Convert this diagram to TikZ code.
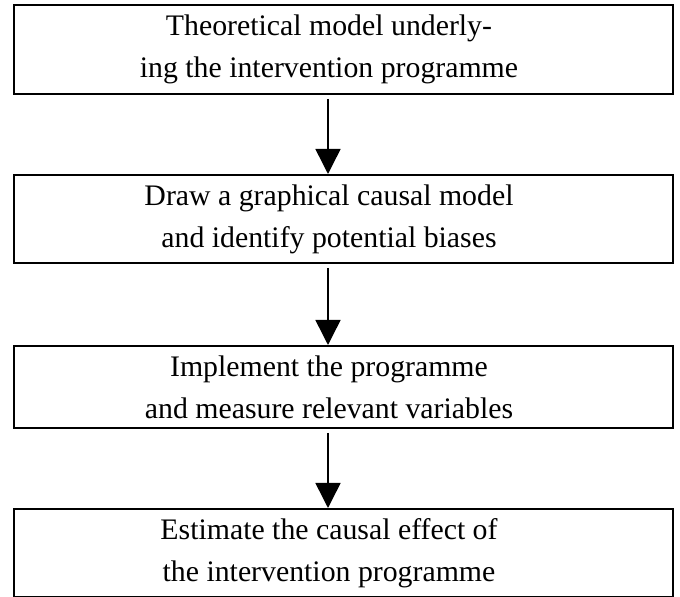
\documentclass[tikz,border=0pt]{standalone}
\usepackage{fontspec}
\setmainfont{Liberation Serif}
\usetikzlibrary{arrows.meta}

\tikzset{
  stage/.style={draw, line width=1pt, minimum width=329.5pt, inner sep=0pt},
  stagetext/.style={align=center, font=\fontsize{14.9}{21}\selectfont, inner sep=0pt},
  flow/.style={-{Triangle[length=12.5pt,width=12.5pt]}, line width=0.75pt, shorten <=2pt}
}

\begin{document}
\begin{tikzpicture}[x=1pt,y=1pt]
   \useasboundingbox (0,0) rectangle (340,-298.5);
   % the four stages
   \node[stage, minimum height=44.5pt] (model)    at (171.75,-24.75)  {};
   \node[stage, minimum height=44pt]   (graph)    at (171.75,-109.5)  {};
   \node[stage, minimum height=41pt]   (measure)  at (171.75,-193.5)  {};
   \node[stage, minimum height=44pt]   (estimate) at (171.75,-276.5)  {};
   \node[stagetext] (tmodel)    at (164.5,-24.5)  {Theoretical model underly-\\ing the intervention programme};
   \node[stagetext] (tgraph)    at (164.5,-109.5) {Draw a graphical causal model\\and identify potential biases};
   \node[stagetext] (tmeasure)  at (164.5,-193.5) {Implement the programme\\and measure relevant variables};
   \node[stagetext] (testimate) at (164.5,-276.5) {Estimate the causal effect of\\the intervention programme};
   % arrows between stages
   \draw[flow] ([xshift=-7.75pt]model.south)   -- ([xshift=-7.75pt]graph.north);
   \draw[flow] ([xshift=-7.75pt]graph.south)   -- ([xshift=-7.75pt]measure.north);
   \draw[flow] ([xshift=-7.75pt]measure.south) -- ([xshift=-7.75pt]estimate.north);
\end{tikzpicture}
\end{document}
